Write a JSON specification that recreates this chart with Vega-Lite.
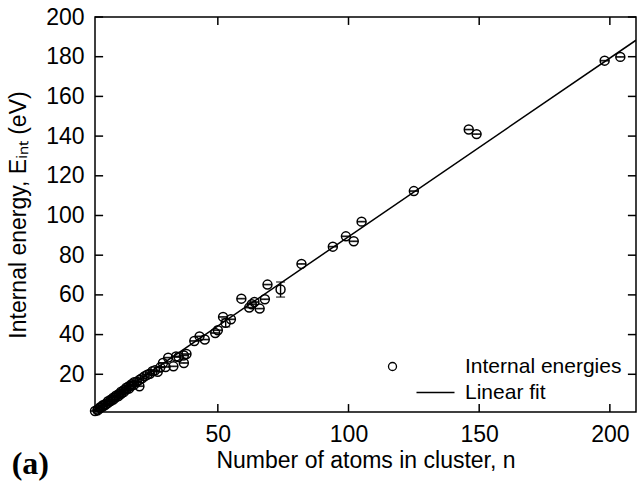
{
  "$schema": "https://vega.github.io/schema/vega-lite/v6.json",
  "width": 541,
  "height": 395,
  "autosize": {"type": "none"},
  "padding": {"left": 95, "top": 17, "right": 1, "bottom": 73},
  "background": "white",
  "config": {
    "view": {"stroke": "black", "strokeWidth": 1.5},
    "axis": {
      "labelFont": "Liberation Sans",
      "titleFont": "Liberation Sans",
      "labelFontSize": 23,
      "titleFontSize": 23,
      "titleFontWeight": "normal",
      "labelColor": "black",
      "titleColor": "black",
      "domain": false,
      "ticks": true,
      "tickColor": "black",
      "tickWidth": 1.5,
      "tickSize": 0,
      "grid": false
    },
    "legend": {"labelFont": "Liberation Sans", "labelFontSize": 21, "labelColor": "black"}
  },
  "title": {"text": "(a)", "orient": "bottom", "anchor": "start", "frame": "bounds", "font": "Liberation Serif", "fontWeight": "bold", "fontSize": 32, "color": "black", "offset": -23, "dx": 4},
  "datasets": {
    "pts": [
      {"n": 3, "E": 1.5, "err": 0.1, "series": "Internal energies"},
      {"n": 4, "E": 2.3, "err": 0.1, "series": "Internal energies"},
      {"n": 4, "E": 1.8, "err": 0.1, "series": "Internal energies"},
      {"n": 5, "E": 3.0, "err": 0.1, "series": "Internal energies"},
      {"n": 5, "E": 3.4, "err": 0.1, "series": "Internal energies"},
      {"n": 6, "E": 3.8, "err": 0.1, "series": "Internal energies"},
      {"n": 6, "E": 4.4, "err": 0.1, "series": "Internal energies"},
      {"n": 7, "E": 4.6, "err": 0.1, "series": "Internal energies"},
      {"n": 7, "E": 5.0, "err": 0.1, "series": "Internal energies"},
      {"n": 8, "E": 5.6, "err": 0.1, "series": "Internal energies"},
      {"n": 8, "E": 6.4, "err": 0.1, "series": "Internal energies"},
      {"n": 9, "E": 6.5, "err": 0.1, "series": "Internal energies"},
      {"n": 9, "E": 7.2, "err": 0.1, "series": "Internal energies"},
      {"n": 10, "E": 7.3, "err": 0.1, "series": "Internal energies"},
      {"n": 10, "E": 8.2, "err": 0.1, "series": "Internal energies"},
      {"n": 11, "E": 8.4, "err": 0.1, "series": "Internal energies"},
      {"n": 11, "E": 9.2, "err": 0.1, "series": "Internal energies"},
      {"n": 12, "E": 9.0, "err": 0.1, "series": "Internal energies"},
      {"n": 12, "E": 10.0, "err": 0.1, "series": "Internal energies"},
      {"n": 13, "E": 10.2, "err": 0.1, "series": "Internal energies"},
      {"n": 13, "E": 11.2, "err": 0.1, "series": "Internal energies"},
      {"n": 14, "E": 11.0, "err": 0.1, "series": "Internal energies"},
      {"n": 14, "E": 12.0, "err": 0.1, "series": "Internal energies"},
      {"n": 15, "E": 12.3, "err": 0.1, "series": "Internal energies"},
      {"n": 15, "E": 13.2, "err": 0.1, "series": "Internal energies"},
      {"n": 16, "E": 12.8, "err": 0.1, "series": "Internal energies"},
      {"n": 16, "E": 14.0, "err": 0.1, "series": "Internal energies"},
      {"n": 17, "E": 14.2, "err": 0.1, "series": "Internal energies"},
      {"n": 17, "E": 15.0, "err": 0.1, "series": "Internal energies"},
      {"n": 18, "E": 14.8, "err": 0.1, "series": "Internal energies"},
      {"n": 18, "E": 16.0, "err": 0.1, "series": "Internal energies"},
      {"n": 19, "E": 16.2, "err": 0.1, "series": "Internal energies"},
      {"n": 20, "E": 14.0, "err": 0.1, "series": "Internal energies"},
      {"n": 20, "E": 17.2, "err": 0.1, "series": "Internal energies"},
      {"n": 21, "E": 18.0, "err": 0.1, "series": "Internal energies"},
      {"n": 22, "E": 19.0, "err": 0.1, "series": "Internal energies"},
      {"n": 23, "E": 19.8, "err": 0.1, "series": "Internal energies"},
      {"n": 24, "E": 20.3, "err": 0.1, "series": "Internal energies"},
      {"n": 25, "E": 21.5, "err": 0.1, "series": "Internal energies"},
      {"n": 26, "E": 22.0, "err": 0.1, "series": "Internal energies"},
      {"n": 27, "E": 21.3, "err": 0.1, "series": "Internal energies"},
      {"n": 28, "E": 23.5, "err": 0.1, "series": "Internal energies"},
      {"n": 29, "E": 25.7, "err": 0.1, "series": "Internal energies"},
      {"n": 30, "E": 23.7, "err": 0.1, "series": "Internal energies"},
      {"n": 31, "E": 28.4, "err": 0.1, "series": "Internal energies"},
      {"n": 33, "E": 24.0, "err": 0.1, "series": "Internal energies"},
      {"n": 34, "E": 29.0, "err": 0.1, "series": "Internal energies"},
      {"n": 35, "E": 28.7, "err": 0.1, "series": "Internal energies"},
      {"n": 37, "E": 29.5, "err": 0.1, "series": "Internal energies"},
      {"n": 37, "E": 25.7, "err": 0.1, "series": "Internal energies"},
      {"n": 38, "E": 30.2, "err": 0.1, "series": "Internal energies"},
      {"n": 41, "E": 36.8, "err": 0.1, "series": "Internal energies"},
      {"n": 43, "E": 39.1, "err": 0.1, "series": "Internal energies"},
      {"n": 45, "E": 37.5, "err": 0.1, "series": "Internal energies"},
      {"n": 49, "E": 40.8, "err": 0.1, "series": "Internal energies"},
      {"n": 50, "E": 42.2, "err": 0.1, "series": "Internal energies"},
      {"n": 52, "E": 48.9, "err": 0.1, "series": "Internal energies"},
      {"n": 53, "E": 45.9, "err": 2.0, "series": "Internal energies"},
      {"n": 55, "E": 47.7, "err": 0.1, "series": "Internal energies"},
      {"n": 59, "E": 58.1, "err": 0.1, "series": "Internal energies"},
      {"n": 62, "E": 53.6, "err": 0.1, "series": "Internal energies"},
      {"n": 63, "E": 55.3, "err": 0.1, "series": "Internal energies"},
      {"n": 64, "E": 56.4, "err": 0.1, "series": "Internal energies"},
      {"n": 66, "E": 53.1, "err": 0.1, "series": "Internal energies"},
      {"n": 68, "E": 57.8, "err": 0.1, "series": "Internal energies"},
      {"n": 69, "E": 65.2, "err": 0.1, "series": "Internal energies"},
      {"n": 74, "E": 62.7, "err": 3.8, "series": "Internal energies"},
      {"n": 82, "E": 75.6, "err": 0.1, "series": "Internal energies"},
      {"n": 94, "E": 84.3, "err": 0.1, "series": "Internal energies"},
      {"n": 99, "E": 89.5, "err": 0.1, "series": "Internal energies"},
      {"n": 102, "E": 87.0, "err": 0.1, "series": "Internal energies"},
      {"n": 105, "E": 96.9, "err": 0.1, "series": "Internal energies"},
      {"n": 125, "E": 112.3, "err": 0.1, "series": "Internal energies"},
      {"n": 146, "E": 143.3, "err": 0.1, "series": "Internal energies"},
      {"n": 149, "E": 141.0, "err": 0.1, "series": "Internal energies"},
      {"n": 198, "E": 178.0, "err": 0.1, "series": "Internal energies"},
      {"n": 204, "E": 179.9, "err": 0.1, "series": "Internal energies"}
    ],
    "fit": [
      {"n": 3, "E": 2.0, "series": "Linear fit"},
      {"n": 210, "E": 188.3, "series": "Linear fit"}
    ],
    "xticks": [{"v": 50}, {"v": 100}, {"v": 150}, {"v": 200}],
    "yticks": [{"v": 20}, {"v": 40}, {"v": 60}, {"v": 80}, {"v": 100}, {"v": 120}, {"v": 140}, {"v": 160}, {"v": 180}, {"v": 200}]
  },
  "layer": [
    {
      "data": {"name": "xticks"},
      "mark": {"type": "rule", "color": "black", "strokeWidth": 1.5},
      "encoding": {
        "x": {"field": "v", "type": "quantitative", "axis": null},
        "y": {"datum": 1, "type": "quantitative", "axis": null},
        "y2": {"datum": 5}
      }
    },
    {
      "data": {"name": "xticks"},
      "mark": {"type": "rule", "color": "black", "strokeWidth": 1.5},
      "encoding": {
        "x": {"field": "v", "type": "quantitative", "axis": null},
        "y": {"datum": 200, "type": "quantitative", "axis": null},
        "y2": {"datum": 196}
      }
    },
    {
      "data": {"name": "yticks"},
      "mark": {"type": "rule", "color": "black", "strokeWidth": 1.5},
      "encoding": {
        "y": {"field": "v", "type": "quantitative", "axis": null},
        "x": {"datum": 3, "type": "quantitative", "axis": null},
        "x2": {"datum": 6.1}
      }
    },
    {
      "data": {"name": "yticks"},
      "mark": {"type": "rule", "color": "black", "strokeWidth": 1.5},
      "encoding": {
        "y": {"field": "v", "type": "quantitative", "axis": null},
        "x": {"datum": 210, "type": "quantitative", "axis": null},
        "x2": {"datum": 206.9}
      }
    },
    {
      "data": {"name": "fit"},
      "mark": {"type": "line", "color": "black", "strokeWidth": 1.5, "clip": true},
      "encoding": {
        "x": {"field": "n", "type": "quantitative", "scale": {"domain": [3, 210], "nice": false, "zero": false}, "axis": null},
        "y": {"field": "E", "type": "quantitative", "scale": {"domain": [1, 200], "nice": false, "zero": false}, "axis": null},
        "color": {"field": "series", "type": "nominal", "scale": {"domain": ["Internal energies", "Linear fit"], "range": ["black", "black"]},
                  "legend": {"title": null, "orient": "none", "legendX": 330, "legendY": 339, "padding": 0, "symbolSize": 64, "labelOffset": 19, "rowPadding": 4,
                             "encode": {"symbols": {"update": {
                               "shape": {"signal": "datum.value === 'Linear fit' ? 'M-4.75,0L4.75,0' : 'M-11.75,0A1,1 0 1,0 -9.75,0A1,1 0 1,0 -11.75,0Z'"},
                               "fill": {"value": "transparent"},
                               "stroke": {"value": "black"},
                               "strokeWidth": {"value": 1.3},
                               "opacity": {"value": 1}
                             }}}}}
      }
    },
    {
      "data": {"name": "pts"},
      "mark": {"type": "errorbar", "color": "black", "thickness": 1.4, "ticks": {"size": 9, "color": "black", "thickness": 1.4}},
      "encoding": {
        "x": {"field": "n", "type": "quantitative", "axis": null},
        "y": {"field": "E", "type": "quantitative", "axis": null},
        "yError": {"field": "err"}
      }
    },
    {
      "data": {"name": "pts"},
      "mark": {"type": "point", "filled": false, "size": 80, "strokeWidth": 1.5, "opacity": 1},
      "encoding": {
        "x": {"field": "n", "type": "quantitative",
              "axis": {"orient": "bottom", "title": "Number of atoms in cluster, n", "values": [50, 100, 150, 200], "labelPadding": 11, "titlePadding": 3}},
        "y": {"field": "E", "type": "quantitative",
              "axis": {"orient": "left", "title": "Internal energy, Eᵢₙₜ (eV)", "values": [20, 40, 60, 80, 100, 120, 140, 160, 180, 200], "labelPadding": 11, "titlePadding": 15}},
        "color": {"field": "series", "type": "nominal",
                  "legend": {"title": null, "orient": "none", "legendX": 330, "legendY": 339, "padding": 0, "symbolSize": 64, "labelOffset": 19, "rowPadding": 4,
                             "encode": {"symbols": {"update": {
                               "shape": {"signal": "datum.value === 'Linear fit' ? 'M-4.75,0L4.75,0' : 'M-11.75,0A1,1 0 1,0 -9.75,0A1,1 0 1,0 -11.75,0Z'"},
                               "fill": {"value": "transparent"},
                               "stroke": {"value": "black"},
                               "strokeWidth": {"value": 1.3},
                               "opacity": {"value": 1}
                             }}}}}
      }
    }
  ],
  "resolve": {"axis": {"x": "independent", "y": "independent"}}
}
